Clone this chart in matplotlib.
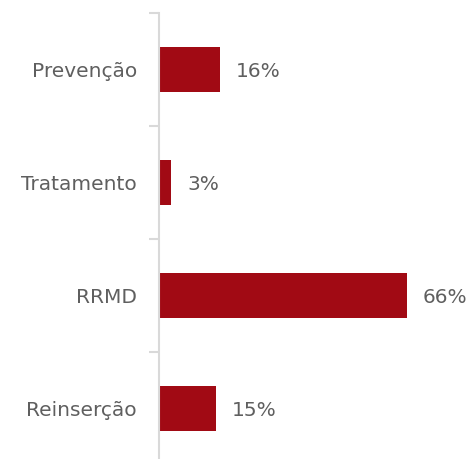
import matplotlib
matplotlib.use("Agg")
import matplotlib.pyplot as plt
import numpy as np

categories = ["Prevenção", "Tratamento", "RRMD", "Reinserção"]
values = [16, 3, 66, 15]
value_labels = ["16%", "3%", "66%", "15%"]

W, H = 467, 459
fig = plt.figure(figsize=(W / 100, H / 100), dpi=100)
ax = fig.add_axes([159 / W, 1 - 465 / H, 248 / W, 452 / H])

y = np.arange(len(categories))
ax.barh(y, values, height=0.4, color="#A10A14", left=0.3)
ax.set_ylim(len(categories) - 0.5, -0.5)
ax.set_xlim(0, 66.3)

font = dict(fontsize=14.5, color="#5f5f5f", family="DejaVu Sans")
ax.set_yticks(y)
ax.set_yticklabels(categories, **font)
ax.tick_params(axis="y", which="major", length=0, pad=16)
ax.set_yticks(np.arange(-0.5, len(categories), 1.0), minor=True)
ax.tick_params(axis="y", which="minor", length=7, width=1.5, color="#d9d9d9")
ax.set_xticks([])

for s in ["top", "right", "bottom"]:
    ax.spines[s].set_visible(False)
ax.spines["left"].set_color("#d9d9d9")
ax.spines["left"].set_linewidth(1.5)
ax.patch.set_alpha(0)

for yi, v, lab in zip(y, values, value_labels):
    ax.annotate(lab, (v + 0.3, yi), xytext=(16, -2), textcoords="offset pixels",
                va="center", ha="left", **font)

fig.savefig("out.png", dpi=100)
